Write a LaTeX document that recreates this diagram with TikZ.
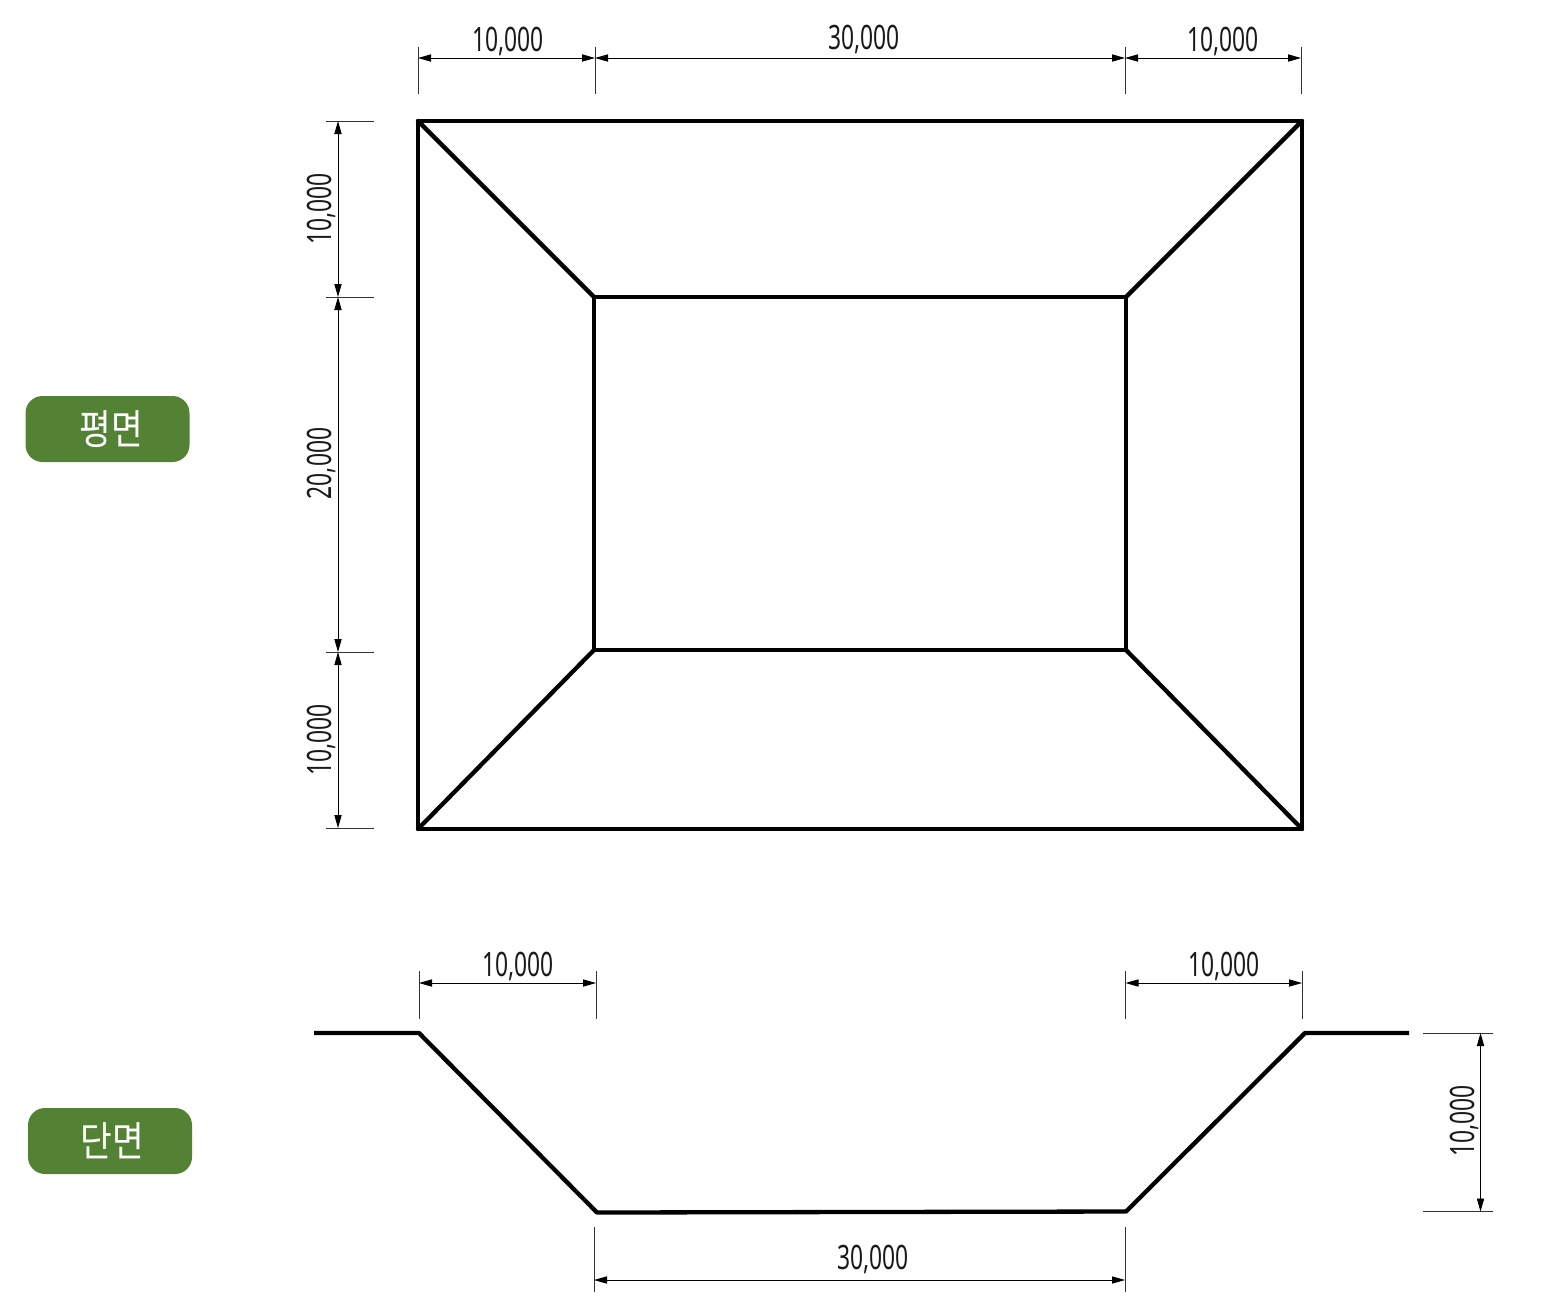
\documentclass[tikz,border=0pt]{standalone}
\usepackage{fontspec}
\usetikzlibrary{arrows.meta}
\newfontfamily\dimfont[FakeStretch=0.68]{Noto Sans}
\newfontfamily\krfont[FakeStretch=0.84]{Noto Sans CJK KR}
\definecolor{badge}{HTML}{548235}
\tikzset{
  x=0.5pt,y=-0.5pt,
  heavy/.style={line width=2.15pt,line cap=round,line join=round,black},
  ext/.style={line width=0.45pt,black!80},
  dimline/.style={line width=0.45pt,black,{Triangle[length=6.5pt,width=3.6pt]}-{Triangle[length=6.5pt,width=3.6pt]}},
  dimtext/.style={font=\dimfont\fontsize{16.8}{19}\selectfont,inner sep=0pt,text=black!90},
  badgebox/.style={fill=badge,rounded corners=8.5pt,inner sep=0pt,text=white,minimum width=82pt,minimum height=33pt,font=\krfont\fontsize{20.5}{24}\selectfont}
}
\begin{document}
\begin{tikzpicture}
\useasboundingbox (0,0) rectangle (1541,1312);
% plan corners
\coordinate (oa) at (418,121); \coordinate (ob) at (1302,121);
\coordinate (oc) at (1302,829); \coordinate (od) at (418,829);
\coordinate (ia) at (594,297); \coordinate (ib) at (1126,297);
\coordinate (ic) at (1126,650); \coordinate (id) at (594,650);
\draw[heavy] (oa)--(ob)--(oc)--(od)--cycle;
\draw[heavy] (ia)--(ib)--(ic)--(id)--cycle;
\draw[heavy] (oa)--(ia) (ob)--(ib) (oc)--(ic) (od)--(id);
% top dims
\foreach \x in {418,595,1125,1301}{\draw[ext] (\x,47)--(\x,94);}
\draw[dimline] (418,58)--(595,58);
\draw[dimline] (595,58)--(1125,58);
\draw[dimline] (1125,58)--(1301,58);
\node[dimtext] (t1) at (508,41) {10,000};
\node[dimtext] (t2) at (864,39.5) {30,000};
\node[dimtext] (t3) at (1223,41) {10,000};
% left dims
\foreach \y in {121,297,652,828}{\draw[ext] (326,\y)--(374,\y);}
\draw[dimline] (338,121)--(338,297);
\draw[dimline] (338,297)--(338,652);
\draw[dimline] (338,652)--(338,828);
\node[dimtext,rotate=90] (l1) at (321,209) {10,000};
\node[dimtext,rotate=90] (l2) at (321,463.5) {20,000};
\node[dimtext,rotate=90] (l3) at (321,740) {10,000};
% section
\coordinate (s0) at (314,1033); \coordinate (s1) at (419,1033);
\coordinate (s2) at (597,1212.5); \coordinate (s3) at (1126,1211.5);
\coordinate (s4) at (1305,1033); \coordinate (s5) at (1409,1033);
\draw[heavy,line cap=butt] (s0)--(s1)--(s2)--(s3)--(s4)--(s5);
\foreach \x in {419,596,1125.5,1302}{\draw[ext] (\x,971)--(\x,1019);}
\draw[dimline] (419,983)--(596,983);
\draw[dimline] (1125.5,983)--(1302,983);
\node[dimtext] (b1) at (518,966) {10,000};
\node[dimtext] (b2) at (1224,966) {10,000};
\foreach \x in {594,1125}{\draw[ext] (\x,1227)--(\x,1292);}
\draw[dimline] (594,1280)--(1125,1280);
\node[dimtext] (b3) at (873,1259) {30,000};
\foreach \y in {1033,1211.5}{\draw[ext] (1423,\y)--(1493,\y);}
\draw[dimline] (1480.5,1033)--(1480.5,1211.5);
\node[dimtext,rotate=90] (r1) at (1464,1121) {10,000};
% badges
\node[badgebox] (plan) at (107.5,429) {\hspace*{4pt}평면};
\node[badgebox] (sect) at (110,1141) {\hspace*{2pt}단면};
\end{tikzpicture}
\end{document}
